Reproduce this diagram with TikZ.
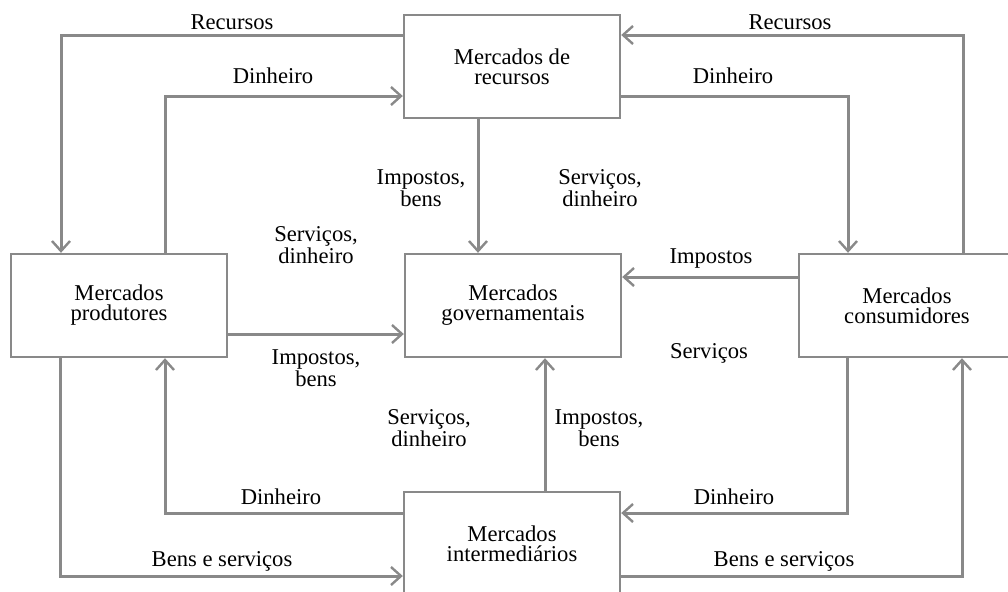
\documentclass[tikz,border=0pt]{standalone}
\usepackage{fontspec}
\setmainfont{Liberation Serif}
\usepackage{tikz}
\usetikzlibrary{arrows.meta}

\definecolor{linegray}{RGB}{137,137,137}

\begin{document}
\begin{tikzpicture}[x=0.5pt,y=-0.5pt,
    market/.style={draw=linegray,line width=1.2pt,fill=white,minimum width=108pt,minimum height=51.5pt,
      align=center,font=\fontsize{11.3pt}{10pt}\selectfont},
    flow/.style={draw=linegray,line width=1.5pt,-{Straight Barb[length=5pt,width=9pt,line width=1.2pt]}},
    lbl/.style={inner sep=0pt,align=center,font=\fontsize{11.3pt}{10pt}\selectfont}]
    \clip (0,0) rectangle (1008,591);

    \node[market] (rec) at (512,66.5) {Mercados de\\recursos};
    \node[market] (prod) at (119,305.5) {Mercados\\produtores};
    \node[market] (gov) at (513,305.5) {Mercados\\governamentais};
    \node[market] (cons) at (907,305.5) {Mercados\\consumidores};
    \node[market] (inter) at (512,543.5) {Mercados\\intermediários};

    \draw[flow] (rec.west |- 0,35) -| (prod.north -| 61,0);
    \draw[flow] (prod.north -| 165,0) |- (rec.west |- 0,96);
    \draw[flow] (cons.north -| 963,0) |- (rec.east |- 0,35);
    \draw[flow] (rec.east |- 0,96) -| (cons.north -| 848,0);
    \draw[flow] (rec.south -| 478,0) -- (gov.north -| 478,0);
    \draw[flow] (prod.east |- 0,334) -- (gov.west |- 0,334);
    \draw[flow] (cons.west |- 0,277) -- (gov.east |- 0,277);
    \draw[flow] (inter.north -| 545,0) -- (gov.south -| 545,0);
    \draw[flow] (inter.west |- 0,513) -| (prod.south -| 165,0);
    \draw[flow] (prod.south -| 60,0) |- (inter.west |- 0,576);
    \draw[flow] (cons.south -| 847,0) |- (inter.east |- 0,513);
    \draw[flow] (inter.east |- 0,576) -| (cons.south -| 962,0);

    \node[lbl] (recW) at (232,22) {Recursos};
    \node[lbl] (dinW) at (273,76) {Dinheiro};
    \node[lbl] (recE) at (790,22) {Recursos};
    \node[lbl] (dinE) at (733,76) {Dinheiro};
    \node[lbl] (impN) at (421,188) {Impostos,\\bens};
    \node[lbl] (serN) at (600,188) {Serviços,\\dinheiro};
    \node[lbl] (serW) at (316,245) {Serviços,\\dinheiro};
    \node[lbl] (impW) at (316,368) {Impostos,\\bens};
    \node[lbl] (impE) at (711,258) {Impostos};
    \node[lbl] (serE) at (709,353) {Serviços};
    \node[lbl] (serS) at (429,428) {Serviços,\\dinheiro};
    \node[lbl] (impS) at (599,428) {Impostos,\\bens};
    \node[lbl] (dinSW) at (281,497) {Dinheiro};
    \node[lbl] (benSW) at (222,561) {Bens e serviços};
    \node[lbl] (dinSE) at (734,497) {Dinheiro};
    \node[lbl] (benSE) at (784,561) {Bens e serviços};
\end{tikzpicture}
\end{document}
